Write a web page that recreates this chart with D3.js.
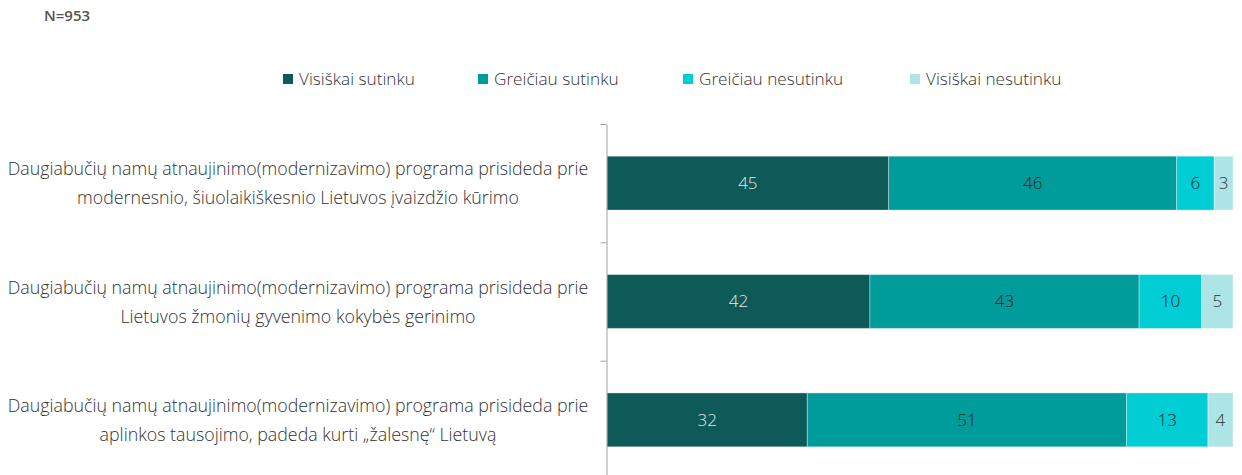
<!DOCTYPE html>
<html>
<head>
<meta charset="utf-8">
<script src="https://cdn.jsdelivr.net/npm/d3@7"></script>
<style>
  body { margin: 0; background: #fff; }
  svg { font-family: "Open Sans", "Noto Sans", sans-serif; }
</style>
</head>
<body>
<svg id="chart"></svg>
<script>
const svgWidth = 1242;
const svgHeight = 475;

// Data
const categories = [
  ["Daugiabučių namų atnaujinimo(modernizavimo) programa prisideda prie", "modernesnio, šiuolaikiškesnio Lietuvos įvaizdžio kūrimo"],
  ["Daugiabučių namų atnaujinimo(modernizavimo) programa prisideda prie", "Lietuvos žmonių gyvenimo kokybės gerinimo"],
  ["Daugiabučių namų atnaujinimo(modernizavimo) programa prisideda prie", "aplinkos tausojimo, padeda kurti „žalesnę“ Lietuvą"]
];
const seriesNames = ["Visiškai sutinku", "Greičiau sutinku", "Greičiau nesutinku", "Visiškai nesutinku"];
const visiskaiSutinku = [45, 42, 32];
const greiciauSutinku = [46, 43, 51];
const greiciauNesutinku = [6, 10, 13];
const visiskaiNesutinku = [3, 5, 4];
const colors = ["#0d5a58", "#009c9c", "#00cdd4", "#ade4e6"];
const labelColors = ["#e6e6e6", "#222", "#222", "#333"];
const sampleNote = "N=953";

const svg = d3.select("#chart")
  .attr("width", svgWidth)
  .attr("height", svgHeight);

const rows = categories.map((c, i) => ({
  idx: i,
  values: [visiskaiSutinku[i], greiciauSutinku[i], greiciauNesutinku[i], visiskaiNesutinku[i]]
}));

// Scales
const x = d3.scaleLinear().domain([0, 100]).range([607, 1233]);
const y = d3.scaleBand().domain(d3.range(categories.length)).range([124, 479]).paddingInner(0.545).paddingOuter(0.272);
const yEdge = d3.scaleLinear().domain([0, categories.length]).range([124, 479]);

// stack
const stack = d3.stack().keys(d3.range(4)).value((d, k) => d.values[k]);
const series = stack(rows);

const g = svg.append("g");
series.forEach((s, k) => {
  const grp = g.append("g");
  grp.selectAll("rect")
    .data(s)
    .enter()
    .append("rect")
    .attr("x", d => x(d[0]))
    .attr("y", d => y(d.data.idx))
    .attr("width", d => x(d[1]) - x(d[0]))
    .attr("height", y.bandwidth())
    .attr("fill", colors[k])
    .attr("stroke", "#ffffff")
    .attr("stroke-opacity", 0.35)
    .attr("stroke-width", 1);
  grp.selectAll("text")
    .data(s)
    .enter()
    .append("text")
    .attr("x", d => (x(d[0]) + x(d[1])) / 2)
    .attr("y", d => y(d.data.idx) + y.bandwidth() / 2)
    .attr("dy", "0.35em")
    .attr("text-anchor", "middle")
    .style("font-size", "17px")
    .style("font-weight", 300)
    .attr("fill", labelColors[k])
    .text(d => d[1] - d[0]);
});

// axis with ticks at band edges
const yAxis = d3.axisLeft(yEdge)
  .tickValues(d3.range(categories.length + 1))
  .tickFormat("")
  .tickSize(6)
  .tickSizeOuter(0);
const axisG = svg.append("g")
  .attr("transform", "translate(606.5,0)")
  .call(yAxis);
axisG.selectAll("path, line").attr("stroke", "#a0a0a0");

// category labels
categories.forEach((lines, i) => {
  const cy = y(i) + y.bandwidth() / 2;
  const t = svg.append("text")
    .attr("x", 298)
    .attr("text-anchor", "middle")
    .style("font-size", "17.8px")
    .style("font-weight", 300)
    .attr("fill", "#333");
  lines.forEach((ln, j) => {
    t.append("tspan")
      .attr("x", 298)
      .attr("y", cy - 14 + j * 29)
      .attr("dy", "0.35em")
      .text(ln);
  });
});

// legend
const legendX = [283, 478, 683, 910];
const legend = svg.append("g");
seriesNames.forEach((name, k) => {
  legend.append("rect")
    .attr("x", legendX[k])
    .attr("y", 74)
    .attr("width", 10)
    .attr("height", 10)
    .attr("fill", colors[k]);
  legend.append("text")
    .attr("x", legendX[k] + 16)
    .attr("y", 79)
    .attr("dy", "0.35em")
    .style("font-size", "17.2px")
    .style("font-weight", 300)
    .attr("fill", "#333")
    .text(name);
});

// sample size
svg.append("text")
  .attr("x", 44)
  .attr("y", 16)
  .attr("dy", "0.35em")
  .style("font-size", "15px")
  .style("font-weight", 600)
  .attr("fill", "#555")
  .text(sampleNote);
</script>
</body>
</html>
